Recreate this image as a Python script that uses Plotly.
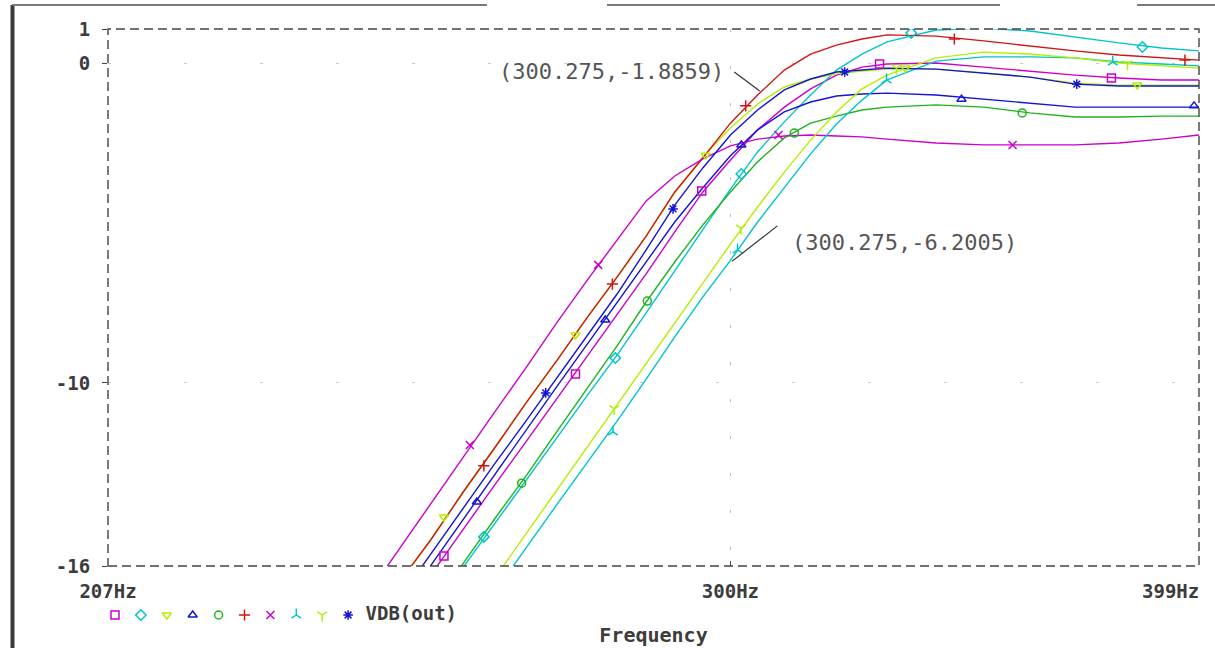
import math
import plotly.graph_objects as go

# ---------------- data ----------------
freq_hz = [240, 245, 250, 255, 260, 265, 270, 275, 280, 285, 290, 295, 300,
           305, 310, 315, 320, 325, 330, 340, 350, 360, 370, 380, 390, 399]

db_square = [-18.9, -17.5, -16.0, -14.56, -13.16, -11.81, -10.47, -9.16, -7.88, -6.59, -5.28, -4.03, -3.03,
             -2.09, -1.38, -0.81, -0.38, -0.13, -0.03, 0.0, -0.13, -0.25, -0.38, -0.47, -0.53, -0.53]
db_diamond = [-20.1, -18.6, -17.19, -15.75, -14.38, -13.03, -11.69, -10.38, -9.13, -7.81, -6.5, -5.22, -3.94,
              -2.78, -1.84, -1.0, -0.22, 0.28, 0.66, 1.03, 1.09, 1.0, 0.81, 0.63, 0.47, 0.38]
db_tri_down = [-17.8, -16.3, -14.9, -13.4, -12.0, -10.6, -9.28, -7.94, -6.69, -5.41, -4.06, -2.94, -2.03,
               -1.28, -0.75, -0.5, -0.34, -0.25, -0.19, -0.19, -0.31, -0.44, -0.63, -0.69, -0.69, -0.69]
db_tri_up = [-18.6, -17.2, -15.7, -14.25, -12.84, -11.47, -10.09, -8.78, -7.5, -6.22, -4.97, -3.9, -2.9,
             -2.09, -1.53, -1.22, -1.03, -0.97, -0.94, -1.0, -1.13, -1.25, -1.38, -1.38, -1.38, -1.38]
db_circle = [-20.0, -18.5, -17.06, -15.63, -14.22, -12.88, -11.5, -10.16, -8.84, -7.47, -6.22, -5.06, -4.03,
             -3.09, -2.34, -1.88, -1.66, -1.47, -1.38, -1.31, -1.38, -1.56, -1.69, -1.69, -1.66, -1.66]
db_plus = [-17.8, -16.3, -14.9, -13.4, -12.0, -10.6, -9.28, -7.94, -6.69, -5.41, -4.03, -2.97, -1.88,
           -1.0, -0.22, 0.28, 0.56, 0.75, 0.88, 0.84, 0.69, 0.53, 0.38, 0.25, 0.16, 0.09]
db_x = [-16.78, -15.25, -13.78, -12.31, -10.88, -9.5, -8.09, -6.78, -5.53, -4.31, -3.53, -3.0, -2.59,
        -2.38, -2.28, -2.25, -2.28, -2.31, -2.38, -2.5, -2.56, -2.56, -2.56, -2.5, -2.38, -2.25]
db_y_up = [-22.3, -20.8, -19.34, -17.9, -16.5, -15.13, -13.78, -12.47, -11.19, -9.88, -8.56, -7.31, -6.17,
           -4.97, -3.88, -2.84, -1.91, -1.16, -0.53, 0.06, 0.19, 0.19, 0.16, 0.03, -0.03, -0.09]
db_y_down = [-21.9, -20.4, -18.94, -17.47, -16.06, -14.69, -13.31, -11.97, -10.69, -9.41, -8.13, -6.88, -5.66,
             -4.5, -3.41, -2.41, -1.53, -0.81, -0.38, 0.16, 0.34, 0.28, 0.16, 0.0, -0.09, -0.16]
db_asterisk = [-18.3, -16.8, -15.34, -13.9, -12.5, -11.16, -9.81, -8.5, -7.22, -5.84, -4.44, -3.28, -2.25,
               -1.47, -0.84, -0.5, -0.28, -0.22, -0.16, -0.19, -0.31, -0.44, -0.66, -0.72, -0.72, -0.72]

# marker positions along each curve (Hz, dB)
mk_square_hz, mk_square_db = [252.0, 273.0, 294.8, 328.5, 378.3], [-15.41, -9.72, -4.0, -0.03, -0.47]
mk_diamond_hz, mk_diamond_db = [258.2, 279.7, 302.0, 334.9, 385.5], [-14.81, -9.22, -3.47, 0.94, 0.5]
mk_tri_down_hz, mk_tri_down_db = [252.0, 273.0, 295.5, 333.7, 384.3], [-14.19, -8.5, -2.88, -0.16, -0.69]
mk_tri_up_hz, mk_tri_up_db = [257.1, 278.0, 302.0, 345.3, 397.8], [-13.72, -8.03, -2.56, -1.13, -1.34]
mk_circle_hz, mk_circle_db = [264.2, 285.2, 311.9, 358.3], [-13.13, -7.44, -2.19, -1.56]
mk_plus_hz, mk_plus_db = [258.2, 279.2, 302.8, 343.8, 395.6], [-12.59, -6.91, -1.34, 0.75, 0.09]
mk_x_hz, mk_x_db = [256.0, 276.8, 308.9, 356.2], [-11.94, -6.31, -2.25, -2.56]
mk_y_up_hz, mk_y_up_db = [279.3, 301.3, 329.9, 378.6], [-11.53, -5.84, -0.53, 0.03]
mk_y_down_hz, mk_y_down_db = [279.5, 301.9, 331.9, 382.0], [-10.81, -5.16, -0.16, -0.03]
mk_asterisk_hz, mk_asterisk_db = [268.1, 289.7, 321.6, 370.4], [-10.31, -4.56, -0.28, -0.66]

x_tick_vals = [205.4, 300, 399]
x_tick_text = ["207Hz", "300Hz", ""]
x_end_label = "399Hz"
x_range_hz = [205.4, 399]
y_tick_vals = [-15.72, -10, 0, 1.0625]
y_tick_text = ["-16", "-10", "0", "1"]
y_range_db = [-15.72, 1.0625]

trace_name = "VDB(out)"

# cursor labels: text, left-edge frequency, dB
cursor_text = ["(300.275,-1.8859)", "(300.275,-6.2005)"]
cursor_text_hz = [260.2, 311.0]
cursor_text_db = [-0.28, -5.625]
# leader lines (start Hz, start dB, end Hz, end dB)
leader_hz0 = [300.7, 308.7]
leader_db0 = [-0.28, -5.09]
leader_hz1 = [305.4, 300.275]
leader_db1 = [-0.875, -6.2005]

# ---------------- styles ----------------
MAG = "#cc00cc"
CYA = "#00c4cc"
YGR = "#b4ee00"
BLU = "#1414d2"
GRN = "#1eb41e"
RED = "#d21414"

series = [
    (db_square, mk_square_hz, mk_square_db, MAG, "square-open"),
    (db_diamond, mk_diamond_hz, mk_diamond_db, CYA, "diamond-open"),
    (db_tri_down, mk_tri_down_hz, mk_tri_down_db, YGR, "triangle-down-open"),
    (db_tri_up, mk_tri_up_hz, mk_tri_up_db, BLU, "triangle-up-open"),
    (db_circle, mk_circle_hz, mk_circle_db, GRN, "circle-open"),
    (db_plus, mk_plus_hz, mk_plus_db, RED, "cross-thin-open"),
    (db_x, mk_x_hz, mk_x_db, MAG, "x-thin-open"),
    (db_y_up, mk_y_up_hz, mk_y_up_db, CYA, "y-up-open"),
    (db_y_down, mk_y_down_hz, mk_y_down_db, YGR, "y-down-open"),
    (db_asterisk, mk_asterisk_hz, mk_asterisk_db, BLU, "asterisk-open"),
]

W, H = 1215, 648
PX_L, PX_R, PX_T, PX_B = 108, 1199, 29, 566
TEXT = "#3c3c3c"
FONT = "DejaVu Sans Mono"
TICKFONT = dict(family=FONT, size=19, color=TEXT, weight="bold")

fig = go.Figure()

for db, mhz, mdb, col, sym in series:
    fig.add_trace(go.Scatter(x=freq_hz, y=db, mode="lines",
                             line=dict(color=col, width=1.4),
                             showlegend=False, hoverinfo="skip"))
for db, mhz, mdb, col, sym in series:
    fig.add_trace(go.Scatter(x=mhz, y=mdb, mode="markers",
                             marker=dict(symbol=sym, size=8, color=col,
                                         line=dict(color=col, width=1.5)),
                             showlegend=False, hoverinfo="skip"))

# legend row drawn in its own small subplot
for i, (db, mhz, mdb, col, sym) in enumerate(series):
    last = i == len(series) - 1
    fig.add_trace(go.Scatter(x=[i], y=[0], xaxis="x2", yaxis="y2",
                             mode="markers+text" if last else "markers",
                             text=["\u00a0" + trace_name] if last else None,
                             textposition="middle right",
                             textfont=TICKFONT,
                             marker=dict(symbol=sym, size=8, color=col,
                                         line=dict(color=col, width=1.5)),
                             showlegend=False, hoverinfo="skip"))

LEG_PX0, LEG_STEP, LEG_PY = 115, 25.9, 615
leg_dom_top = 0.12
leg_h = leg_dom_top * H
leg_y0 = (H - LEG_PY) / leg_h

shapes = [
    # dashed plot frame
    dict(type="rect", xref="x domain", yref="y domain", x0=0, x1=1, y0=0, y1=1,
         line=dict(color="#444444", width=1.4, dash="9px,5px"), layer="above"),
]
for h0, d0, h1, d1 in zip(leader_hz0, leader_db0, leader_hz1, leader_db1):
    shapes.append(dict(type="line", xref="x", yref="y", x0=h0, y0=d0, x1=h1, y1=d1,
                       line=dict(color="#333333", width=1.2)))
# window chrome remnants
shapes.append(dict(type="line", xref="paper", yref="paper", x0=12.5 / W, x1=12.5 / W,
                   y0=1 - 5 / H, y1=0, line=dict(color="#3a3a3a", width=4)))
for a, b in [(12, 487), (607, 1000), (1137, 1215)]:
    shapes.append(dict(type="line", xref="paper", yref="paper", x0=a / W, x1=b / W,
                       y0=1 - 5 / H, y1=1 - 5 / H, line=dict(color="#7a7a7a", width=2)))

annotations = []
for t, hz, db in zip(cursor_text, cursor_text_hz, cursor_text_db):
    annotations.append(dict(x=math.log10(hz), y=db, xref="x", yref="y", text=t,
                            showarrow=False, xanchor="left", yanchor="middle",
                            font=dict(family=FONT, size=22, color="#555555")))
# right-end frequency label, right-aligned to the end of the axis
annotations.append(dict(x=math.log10(x_range_hz[1]), y=(H - 591) / H, xref="x", yref="paper",
                        text=x_end_label, showarrow=False, xanchor="right", yanchor="middle",
                        xshift=2, font=TICKFONT))

fig.update_layout(
    width=W, height=H,
    margin=dict(l=0, r=0, t=0, b=0),
    paper_bgcolor="white", plot_bgcolor="rgba(0,0,0,0)",
    showlegend=False,
    shapes=shapes, annotations=annotations,
    xaxis=dict(type="log", domain=[PX_L / W, PX_R / W],
               range=[math.log10(x_range_hz[0]), math.log10(x_range_hz[1])],
               tickmode="array", tickvals=x_tick_vals, ticktext=x_tick_text,
               ticks="inside", ticklen=5, tickwidth=1.4, tickcolor="#444444",
               ticklabelstandoff=12,
               tickfont=TICKFONT,
               showgrid=True, gridcolor="#bdbdbd", griddash="3px,34px", gridwidth=1,
               zeroline=False, showline=False, automargin=False, fixedrange=True,
               title=dict(text="Frequency", standoff=26,
                          font=dict(family=FONT, size=20, color=TEXT, weight="bold"))),
    yaxis=dict(domain=[(H - PX_B) / H, (H - PX_T) / H], range=y_range_db,
               tickmode="array", tickvals=y_tick_vals, ticktext=y_tick_text,
               ticks="outside", ticklen=5, tickwidth=1.4, tickcolor="#444444",
               ticklabelstandoff=8,
               tickfont=TICKFONT,
               showgrid=True, gridcolor="#c8c8c8", griddash="3px,73px", gridwidth=1,
               zeroline=False, showline=False, automargin=False, fixedrange=True),
    xaxis2=dict(domain=[0, 1], anchor="y2", visible=False, fixedrange=True,
                range=[-LEG_PX0 / LEG_STEP, (W - LEG_PX0) / LEG_STEP]),
    yaxis2=dict(domain=[0, leg_dom_top], anchor="x2", visible=False, fixedrange=True,
                range=[-leg_y0, 1 - leg_y0]),
)

fig.write_html("out.html")
